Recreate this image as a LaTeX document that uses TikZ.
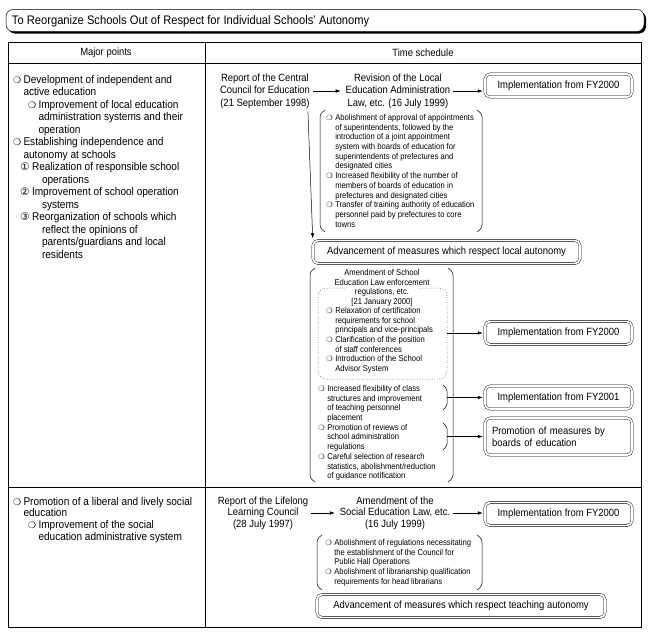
\documentclass[tikz,border=0pt]{standalone}
\usepackage{fontspec}
\setmainfont{Liberation Sans}[FakeStretch=0.9]
\newfontfamily\symfont{DejaVu Sans}
\usetikzlibrary{arrows.meta,positioning}

% bullets and circled numbers
\newcommand{\bul}{\makebox[10.5pt][l]{\symfont\fontsize{9}{8}\selectfont ❍}}
\newcommand{\sbul}{\makebox[9pt][l]{\symfont\fontsize{7.2}{6}\selectfont ❍}}
\newcommand{\cnum}[1]{\makebox[12pt][l]{\symfont\fontsize{10.5}{8}\selectfont #1}}
% pair of brackets round a list
\newcommand{\brackets}[4]{%
  \draw[rounded corners=3pt] (#1+5,#3) -- (#1,#3+4) -- (#1,#4-4) -- (#1+5,#4);
  \draw[rounded corners=3pt] (#2-5,#3) -- (#2,#3+4) -- (#2,#4-4) -- (#2-5,#4);}

\begin{document}
\begin{tikzpicture}[x=1pt, y=-1pt, line width=0.5pt,
  txt/.style={font=\fontsize{10.5}{12.5}\selectfont, inner sep=0pt, outer sep=3pt},
  pointtxt/.style={font=\fontsize{11.2}{12.5}\selectfont, inner sep=0pt, outer sep=0pt, anchor=north west, align=left},
  smalltxt/.style={font=\fontsize{8.5}{9.7}\selectfont, inner sep=0pt},
  dbox/.style={draw, double, double distance=1.8pt, line width=0.4pt, rounded corners=5pt,
    minimum width=147pt, minimum height=23pt, inner xsep=6pt, font=\fontsize{10.5}{12.5}\selectfont},
  arr/.style={-{Latex[length=5pt,width=3.5pt]}, line width=0.5pt, shorten >=2pt}]
\useasboundingbox (0,0) rectangle (649,637);

% Title
\fill[rounded corners=7pt] (8,11.5) rectangle (646,33.5);
\draw[fill=white, rounded corners=7pt] (6,9.5) rectangle (644,31.5);
\node[txt, anchor=west, outer sep=0pt, font=\fontsize{12.4}{13}\selectfont] (title) at (12,21)
  {To Reorganize Schools Out of Respect for Individual Schools’ Autonomy};

% Table
\draw (8,42) rectangle (641,627);
\draw (8,63) -- (641,63);
\draw (8,487) -- (641,487);
\draw (205,42) -- (205,627);
\node[txt] (hpoints) at (106,52.5) {Major points};
\node[txt] (hsched) at (423,52.5) {Time schedule};

% Major points
\node[pointtxt] (points1) at (13,75) {%
  \bul Development of independent and\\
  \hspace*{10.5pt}active education\\
  \hspace*{15pt}\bul Improvement of local education\\
  \hspace*{25.5pt}administration systems and their\\
  \hspace*{25.5pt}operation\\
  \bul Establishing independence and\\
  \hspace*{10.5pt}autonomy at schools\\
  \hspace*{7pt}\cnum{①}Realization of responsible school\\
  \hspace*{29pt}operations\\
  \hspace*{7pt}\cnum{②}Improvement of school operation\\
  \hspace*{29pt}systems\\
  \hspace*{7pt}\cnum{③}Reorganization of schools which\\
  \hspace*{29pt}reflect the opinions of\\
  \hspace*{29pt}parents/guardians and local\\
  \hspace*{29pt}residents};
\node[pointtxt, font=\fontsize{11.2}{11.7}\selectfont] (points2) at (13,497) {%
  \bul Promotion of a liberal and lively social\\
  \hspace*{10.5pt}education\\
  \hspace*{15pt}\bul Improvement of the social\\
  \hspace*{25.5pt}education administrative system};

% Local education administration
\node[txt, align=center] (cce) at (265,91)
  {Report of the Central\\Council for Education\\(21 September 1998)};
\node[txt, align=center] (lea) at (398,91)
  {Revision of the Local\\Education Administration\\Law, etc. (16 July 1999)};
\node[dbox] (fy00a) at (558.5,85.5) {Implementation from FY2000};
\draw[arr] (cce) -- (lea);
\draw[arr] (lea.east) -- (lea.east -| fy00a.west);

\brackets{320}{482}{110}{232}
\node[smalltxt, anchor=north west, align=left] (locallist) at (326,114) {%
  \sbul Abolishment of approval of appointments\\
  \hspace*{9pt}of superintendents, followed by the\\
  \hspace*{9pt}introduction of a joint appointment\\
  \hspace*{9pt}system with boards of education for\\
  \hspace*{9pt}superintendents of prefectures and\\
  \hspace*{9pt}designated cities\\
  \sbul Increased flexibility of the number of\\
  \hspace*{9pt}members of boards of education in\\
  \hspace*{9pt}prefectures and designated cities\\
  \sbul Transfer of training authority of education\\
  \hspace*{9pt}personnel paid by prefectures to core\\
  \hspace*{9pt}towns};

\node[dbox, minimum width=267pt] (localadv) at (446.5,252)
  {Advancement of measures which respect local autonomy};
\draw[arr] ([xshift=-5pt]cce.south east) -- (localadv.north west);

% School Education Law enforcement regulations
\brackets{310}{453}{268}{482}
\node[smalltxt, anchor=north, align=center] (seltitle) at (382,269)
  {Amendment of School\\Education Law enforcement\\regulations, etc.\\{[21 January 2000]}};
\draw[dotted, rounded corners=8pt] (345,288) -- (318,288) -- (318,379) -- (447,379) -- (447,288) -- (418,288);
\node[smalltxt, anchor=north west, align=left] (sellist) at (326,307) {%
  \sbul Relaxation of certification\\
  \hspace*{9pt}requirements for school\\
  \hspace*{9pt}principals and vice-principals\\
  \sbul Clarification of the position\\
  \hspace*{9pt}of staff conferences\\
  \sbul Introduction of the School\\
  \hspace*{9pt}Advisor System};
\node[smalltxt, anchor=north west, align=left] (schoollist) at (318,385) {%
  \sbul Increased flexibility of class\\
  \hspace*{9pt}structures and improvement\\
  \hspace*{9pt}of teaching personnel\\
  \hspace*{9pt}placement\\
  \sbul Promotion of reviews of\\
  \hspace*{9pt}school administration\\
  \hspace*{9pt}regulations\\
  \sbul Careful selection of research\\
  \hspace*{9pt}statistics, abolishment/reduction\\
  \hspace*{9pt}of guidance notification};
\draw[rounded corners=2pt] (443,385) -- (447,389) -- (447,406) -- (443,410);
\draw[rounded corners=2pt] (443,423) -- (447,427) -- (447,446) -- (443,450);
\coordinate (dotr) at (447,333);
\coordinate (bra) at (447,397.5);
\coordinate (brb) at (447,436.5);

\node[dbox] (fy00b) at (558.5,333) {Implementation from FY2000};
\node[dbox] (fy01) at (558.5,397.5) {Implementation from FY2001};
\node[dbox, text width=133pt, align=left, minimum height=37pt, inner xsep=7pt] (boards) at (558.5,436.5)
  {Promotion of measures by\\boards of education};
\draw[arr] (dotr) -- (fy00b);
\draw[arr] (bra) -- (fy01);
\draw[arr] (brb) -- (boards);

% Social education
\node[txt, align=center, font=\fontsize{10.5}{11.5}\selectfont] (llc) at (263,513)
  {Report of the Lifelong\\Learning Council\\(28 July 1997)};
\node[txt, align=center, font=\fontsize{10.5}{11.5}\selectfont] (sel) at (395,513)
  {Amendment of the\\Social Education Law, etc.\\(16 July 1999)};
\node[dbox] (fy00c) at (558.5,514) {Implementation from FY2000};
\draw[arr] (llc) -- (sel);
\draw[arr] (sel.east) -- (sel.east -| fy00c.west);

\brackets{317}{482}{535}{590}
\node[smalltxt, anchor=north west, align=left] (sociallist) at (325,539) {%
  \sbul Abolishment of regulations necessitating\\
  \hspace*{9pt}the establishment of the Council for\\
  \hspace*{9pt}Public Hall Operations\\
  \sbul Abolishment of librarianship qualification\\
  \hspace*{9pt}requirements for head librarians};
\node[dbox, minimum width=288pt] (teachadv) at (461,606)
  {Advancement of measures which respect teaching autonomy};
\end{tikzpicture}
\end{document}
